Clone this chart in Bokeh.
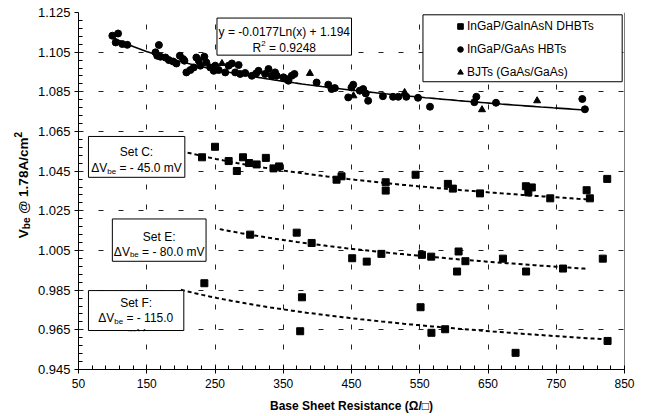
import numpy as np
from math import pi
from bokeh.plotting import figure
from bokeh.layouts import row
from bokeh.models import (Range1d, FixedTicker, NumeralTickFormatter, Label, BoxAnnotation,
                          Span, Legend, LegendItem)
from bokeh.embed import file_html
from bokeh.resources import INLINE

# ---------------- data ----------------
setC_x = [231, 250, 270, 282, 291, 300, 311, 324.5, 335.7, 343.9, 428.1, 435.4, 500.1, 500.1,
          543.9, 591.2, 598.5, 638.3, 705.5, 714.2, 709.1, 741.2, 794.5, 799.3, 824.7]
setC_y = [1.0520, 1.0573, 1.0501, 1.0451, 1.0520, 1.0491, 1.0484, 1.0517, 1.0464, 1.0474,
          1.0407, 1.0424, 1.0394, 1.0352, 1.0432, 1.0386, 1.0362, 1.0338, 1.0374, 1.0368,
          1.0343, 1.0313, 1.0354, 1.0313, 1.0411]

setE_x = [301.5, 369.7, 391.6, 451.0, 472.3, 493.8, 553.2, 566.8, 604.7, 606.9, 616.9,
          671.9, 705.8, 759.9, 818.2]
setE_y = [1.0130, 1.0140, 1.0088, 1.0011, 0.9994, 1.0033, 1.0028, 1.0019, 0.9944, 1.0045,
          0.9996, 1.0009, 0.9944, 0.9959, 1.0009]

setF_x = [234.4, 377.4, 374.8, 551.2, 567.1, 587.2, 690.4, 825.2]
setF_y = [0.9885, 0.9814, 0.9643, 0.9764, 0.9635, 0.9653, 0.9534, 0.9594]

hbt_x = [99.6, 108.0, 104.5, 114.2, 121.5, 167.8, 162.8, 165.3, 170.1, 177.4, 182.4, 188.7,
         193.5, 198.5, 203.3, 205.2, 208.1, 213.9, 218.9, 222.7, 226.2, 228.5, 234.4, 237.3,
         243.1, 250.4, 248.1, 255.4, 265.0, 270.0, 274.8, 284.6, 279.6, 286.9, 294.2, 304.0,
         310.3, 313.8, 323.4, 328.4, 333.2, 338.0, 340.5, 350.3, 355.1, 357.6, 362.4, 366.4,
         398.9, 416.0, 420.8, 425.6, 445.2, 450.0, 452.5, 462.1, 467.1, 470.9, 474.4, 496.0,
         510.9, 518.6, 530.3, 547.4, 565.0, 630.0, 632.9, 661.7, 788.2, 792.0]
hbt_y = [1.1133, 1.1144, 1.1099, 1.1091, 1.1087, 1.1086, 1.1049, 1.1032, 1.1027, 1.1023,
         1.1010, 1.1003, 1.0993, 1.1032, 1.1015, 1.1007, 1.0948, 1.0960, 1.0973, 1.1023,
         1.1007, 1.0982, 1.1027, 1.0998, 1.0973, 1.0982, 1.0956, 1.0960, 1.0948, 1.0982,
         1.0993, 1.0985, 1.0948, 1.0940, 1.0945, 1.0931, 1.0943, 1.0956, 1.0940, 1.0965,
         1.0931, 1.0948, 1.0931, 1.0923, 1.0914, 1.0906, 1.0931, 1.0940, 1.0897, 1.0886,
         1.0864, 1.0869, 1.0822, 1.0872, 1.0886, 1.0856, 1.0864, 1.0842, 1.0805, 1.0828,
         1.0825, 1.0825, 1.0825, 1.0820, 1.0775, 1.0798, 1.0825, 1.0795, 1.0814, 1.0762]

bjt_x = [260.2, 389.1, 452.9, 527.8, 641.2, 722.0]
bjt_y = [1.0993, 1.0943, 1.0830, 1.0847, 1.0760, 1.0805]

# fitted trend (equation shown in the chart) and set offsets
fit_a = -0.0177
fit_b = 1.194
shift_C = -0.045
shift_E = -0.080
shift_F = -0.115
fit_span = (97, 792)
C_span = (190, 797)
E_span = (257, 795)
F_span = (200, 826)

x_ticks = [50, 150, 250, 350, 450, 550, 650, 750, 850]
y_ticks = [0.945, 0.965, 0.985, 1.005, 1.025, 1.045, 1.065, 1.085, 1.105, 1.125]

legend_labels = ["InGaP/GaInAsN DHBTs", "InGaP/GaAs HBTs", "BJTs (GaAs/GaAs)"]

FONT = "Liberation Sans"
H = 415
TW = 34  # width of the strip that carries the vertical axis title
NB = "\u00a0"  # non-collapsing space for text pieces that start with a space

# ---------------- text helpers ----------------
W_REG = {' ': .278, NB: .278, '.': .278, ':': .278, '=': .584, '-': .333, '+': .584, '(': .333,
         ')': .333, '/': .278, 'A': .667, 'C': .722, 'E': .667, 'F': .611, 'L': .556, 'R': .722,
         'S': .667, 'V': .667, 'a': .556, 'b': .556, 'c': .5, 'e': .556, 'm': .833, 'n': .556,
         's': .5, 't': .278, 'x': .5, 'y': .5, '\u0394': .668}
W_BOLD = {' ': .278, NB: .278, '.': .278, '@': .975, 'A': .722, 'V': .667, 'b': .611, 'e': .556,
          'c': .556, 'm': .889, '/': .278}


def tw(s, size, bold=False):
    tbl = W_BOLD if bold else W_REG
    return sum(tbl.get(ch, .556) for ch in s) * size


# ---------------- vertical title strip ----------------
t = figure(width=TW, height=H, x_range=Range1d(0, TW), y_range=Range1d(H, 0),
           output_backend="svg", toolbar_location=None, x_axis_type=None, y_axis_type=None,
           min_border=0)
t.outline_line_color = None
t.xgrid.visible = False
t.ygrid.visible = False
ytitle = [("V", 13.5, 0), ("be", 10, 3.5), (NB + "@ 1.78A/cm", 13.5, 0), ("2", 10, -5.5)]
cur = 0.0
for txt, s, dx in ytitle:
    t.add_layout(Label(x=22.6, y=262.4, x_offset=dx, y_offset=cur, text=txt, angle=pi / 2,
                       text_font=FONT, text_font_style="bold", text_font_size=f"{s}px",
                       text_color="black", text_align="left", text_baseline="alphabetic"))
    cur += tw(txt, s, bold=True)

# ---------------- main figure ----------------
p = figure(width=648 - TW, height=H, x_range=Range1d(50, 850), y_range=Range1d(0.945, 1.125),
           output_backend="svg", toolbar_location=None,
           min_border_left=76 - TW, min_border_right=24, min_border_top=12,
           min_border_bottom=H - 369)
p.outline_line_color = None
p.background_fill_color = "white"
p.border_fill_color = "white"

x_minor = [v for v in range(50, 851, 20) if (v - 50) % 100 != 0]
y_minor = [round(0.945 + 0.004 * k, 3) for k in range(46) if k % 5 != 0]

xa = p.xaxis[0]
xa.ticker = FixedTicker(ticks=x_ticks, minor_ticks=x_minor)
xa.major_label_text_font = FONT
xa.major_label_text_font_size = "12px"
xa.major_label_text_color = "black"
xa.major_tick_in = 4
xa.major_tick_out = 4
xa.minor_tick_in = 4
xa.minor_tick_out = 0
xa.major_label_standoff = 5
xa.axis_label = "Base Sheet Resistance (\u03a9/\u25a1)"
xa.axis_label_text_font = FONT
xa.axis_label_text_font_style = "bold"
xa.axis_label_text_font_size = "12px"
xa.axis_label_text_color = "black"
xa.axis_label_standoff = 8
xa.axis_line_color = "black"
xa.major_tick_line_color = "black"
xa.minor_tick_line_color = "black"

ya = p.yaxis[0]
ya.ticker = FixedTicker(ticks=y_ticks, minor_ticks=y_minor)
ya.formatter = NumeralTickFormatter(format="0.000")
ya.major_label_text_font = FONT
ya.major_label_text_font_size = "13px"
ya.major_label_text_color = "black"
ya.major_tick_in = 0
ya.major_tick_out = 4
ya.minor_tick_in = 4
ya.minor_tick_out = 0
ya.major_label_standoff = 4
ya.axis_line_color = "black"
ya.major_tick_line_color = "black"
ya.minor_tick_line_color = "black"

p.xgrid.ticker = FixedTicker(ticks=x_ticks[1:-1])
p.ygrid.ticker = FixedTicker(ticks=y_ticks[1:-1])
for g in (p.xgrid[0], p.ygrid[0]):
    g.grid_line_color = "#222222"
    g.grid_line_dash = "5 15"
    g.grid_line_width = 1

p.add_layout(Span(location=850, dimension="height", line_color="black", line_width=1))


# ---------------- trend lines ----------------
def fit_curve(span, shift):
    xs = np.linspace(span[0], span[1], 120)
    return xs, fit_a * np.log(xs) + fit_b + shift


xs, ys = fit_curve(fit_span, 0.0)
p.line(xs, ys, line_color="black", line_width=1.6)
for span, sh in ((C_span, shift_C), (E_span, shift_E), (F_span, shift_F)):
    xs, ys = fit_curve(span, sh)
    p.line(xs, ys, line_color="black", line_width=2, line_dash="4 3")

# ---------------- points ----------------
rC = p.scatter(setC_x, setC_y, marker="square", size=7, color="black")
rE = p.scatter(setE_x, setE_y, marker="square", size=7, color="black")
rF = p.scatter(setF_x, setF_y, marker="square", size=7, color="black")
rH = p.scatter(hbt_x, hbt_y, marker="circle", size=7, color="black")
rB = p.scatter(bjt_x, bjt_y, marker="triangle", size=7, color="black")


def rich_h(pieces, x, y, base_dy=-4.3):
    total = sum(tw(tx, s) for tx, s, _ in pieces)
    c = -total / 2
    for tx, s, dy in pieces:
        p.add_layout(Label(x=x, y=y, x_offset=c, y_offset=base_dy + dy, text=tx,
                           text_font=FONT, text_font_size=f"{s}px", text_color="black",
                           text_align="left", text_baseline="alphabetic"))
        c += tw(tx, s)


def box(l, r, tp, b):
    p.add_layout(BoxAnnotation(left=l, right=r, top=tp, bottom=b, fill_color="white",
                               fill_alpha=1, line_color="black", line_width=1, line_alpha=1))


# equation box
box(252.9, 450.0, 1.1222, 1.1035)
rich_h([("y = -0.0177Ln(x) + 1.194", 12, 0)], 351.5, 1.11744)
rich_h([("R", 12, 0), ("2", 8, 4.5), (NB + "= 0.9248", 12, 0)], 351.5, 1.10908)

# Set C
box(64.6, 205.8, 1.0625, 1.0419)
rich_h([("Set C:", 12, 0)], 135.0, 1.05699)
rich_h([("\u0394V", 12, 0), ("be", 8, -3), (NB + "= - 45.0 mV", 12, 0)], 135.0, 1.04863)

# Set E
box(99.6, 236.9, 1.0209, 0.99956)
rich_h([("Set E:", 12, 0)], 168.2, 1.01417)
rich_h([("\u0394V", 12, 0), ("be", 8, -3), (NB + "= - 80.0 mV", 12, 0)], 168.2, 1.00661)

# Set F (text overflows the box and is cut at its lower border)
box(64.6, 204.3, 0.9848, 0.96465)
rich_h([("Set F:", 12, 0)], 134.5, 0.98062)
rich_h([("\u0394V", 12, 0), ("be", 8, -3), (NB + "= - 115.0", 12, 0)], 134.5, 0.97306)
rich_h([("mV", 12, 0)], 134.5, 0.96314, base_dy=0)
p.add_layout(BoxAnnotation(left=119.0, right=148.0, top=0.9643, bottom=0.9600,
                           fill_color="white", fill_alpha=1, line_alpha=0))

# ---------------- legend ----------------
box(554.7, 846.6, 1.12384, 1.09009)
legend = Legend(items=[LegendItem(label=legend_labels[0], renderers=[rC]),
                       LegendItem(label=legend_labels[1], renderers=[rH]),
                       LegendItem(label=legend_labels[2], renderers=[rB])],
                location=(375, 287), padding=0, spacing=3, margin=0,
                glyph_width=14, glyph_height=20, label_height=20, label_standoff=0,
                label_text_font=FONT, label_text_font_size="12px", label_text_color="black",
                border_line_color=None, background_fill_alpha=0)
p.add_layout(legend)

layout = row(t, p, spacing=0)
open("out.html", "w").write(file_html(layout, INLINE))
